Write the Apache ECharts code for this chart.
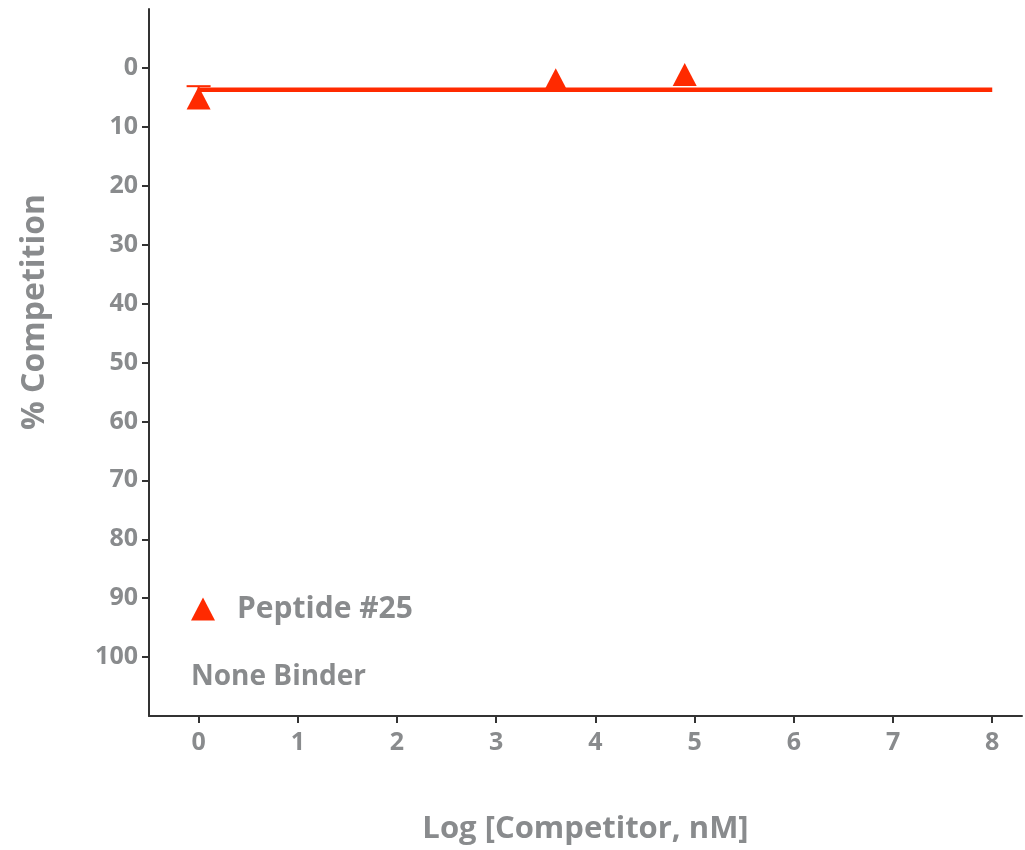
<!DOCTYPE html>
<html lang="en">
<head>
    <meta charset="UTF-8">
    <title>Peptide #25 Competition</title>
    <script src="https://cdn.jsdelivr.net/npm/echarts@6.0.0/dist/echarts.min.js"></script>
    <style>
        html, body { margin: 0; padding: 0; background: #fff; }
    </style>
</head>
<body>
    <div id="chart-container" style="width: 1025px; height: 850px;"></div>

    <script>
    // data
    var logConc = [0, 3.6, 4.9];
    var competition = [5.1, 2.0, 1.1];
    var errUp = [3.1, null, null];   // top of error bar (only the first point shows one)
    var fitX = [0, 8];
    var fitY = [3.7, 3.7];
    var xTicks = [0, 1, 2, 3, 4, 5, 6, 7, 8];
    var yTicks = [0, 10, 20, 30, 40, 50, 60, 70, 80, 90, 100];

    var red = '#ff2a00';
    var grey = '#898b8d';
    var font = "'Open Sans', 'Noto Sans', sans-serif";

    var points = logConc.map(function (x, i) { return [x, competition[i]]; });
    var fitLine = fitX.map(function (x, i) { return [x, fitY[i]]; });
    var errData = [];
    logConc.forEach(function (x, i) {
        if (errUp[i] != null) errData.push([x, competition[i], errUp[i]]);
    });

    var chart = echarts.init(document.getElementById('chart-container'));

    var option = {
        animation: false,
        backgroundColor: '#fff',
        grid: { left: 149, top: 9, right: 3, bottom: 134 },
        legend: {
            data: [{ name: 'Peptide #25', icon: 'triangle', itemStyle: { color: red, opacity: 1 } }],
            left: 191,
            top: 594,
            padding: 0,
            itemWidth: 24,
            itemHeight: 23,
            textStyle: { color: grey, fontSize: 30, fontWeight: 'bold', fontFamily: font, padding: [0, 0, 0, 17] }
        },
        graphic: [
            {
                type: 'text',
                left: 191,
                top: 663,
                style: { text: 'None Binder', fill: grey, fontSize: 28, fontWeight: 'bold', fontFamily: font }
            },
            {
                type: 'text',
                x: 35,
                y: 312,
                rotation: Math.PI / 2,
                style: {
                    text: '% Competition', fill: grey, fontSize: 32, fontWeight: 'bold', fontFamily: font,
                    align: 'center', verticalAlign: 'middle'
                }
            }
        ],
        xAxis: {
            type: 'value',
            min: -0.5,
            max: 8.3,
            name: 'Log [Competitor, nM]',
            nameLocation: 'middle',
            nameGap: 98,
            nameTextStyle: { color: grey, fontSize: 31, fontWeight: 'bold', fontFamily: font },
            splitLine: { show: false },
            axisLine: { onZero: false, lineStyle: { color: '#333', width: 2 } },
            axisTick: { customValues: xTicks, length: 7, lineStyle: { color: '#333', width: 2 } },
            axisLabel: { customValues: xTicks, color: grey, fontSize: 25, fontWeight: 'bold', fontFamily: font, margin: 14 }
        },
        yAxis: {
            type: 'value',
            inverse: true,
            min: -10,
            max: 110,
            splitLine: { show: false },
            axisLine: { onZero: false, lineStyle: { color: '#333', width: 2 } },
            axisTick: { customValues: yTicks, length: 7, lineStyle: { color: '#333', width: 2 } },
            axisLabel: { customValues: yTicks, color: grey, fontSize: 25, fontWeight: 'bold', fontFamily: font, margin: 11 }
        },
        series: [
            {
                name: 'Peptide #25',
                type: 'scatter',
                symbol: 'triangle',
                symbolSize: [24, 23],
                itemStyle: { color: red, opacity: 1 },
                data: points,
                z: 2
            },
            {
                name: 'error',
                type: 'custom',
                z: 3,
                renderItem: function (params, api) {
                    var p = api.coord([api.value(0), api.value(1)]);
                    var t = api.coord([api.value(0), api.value(2)]);
                    return {
                        type: 'group',
                        children: [
                            { type: 'line', shape: { x1: p[0], y1: p[1], x2: t[0], y2: t[1] }, style: { stroke: red, lineWidth: 2 } },
                            { type: 'line', shape: { x1: t[0] - 12, y1: t[1], x2: t[0] + 12, y2: t[1] }, style: { stroke: red, lineWidth: 2 } }
                        ]
                    };
                },
                data: errData
            },
            {
                name: 'fit',
                type: 'line',
                showSymbol: false,
                symbol: 'none',
                lineStyle: { color: red, width: 4.5 },
                data: fitLine,
                z: 4
            }
        ]
    };

    chart.setOption(option);
    </script>
</body>
</html>
